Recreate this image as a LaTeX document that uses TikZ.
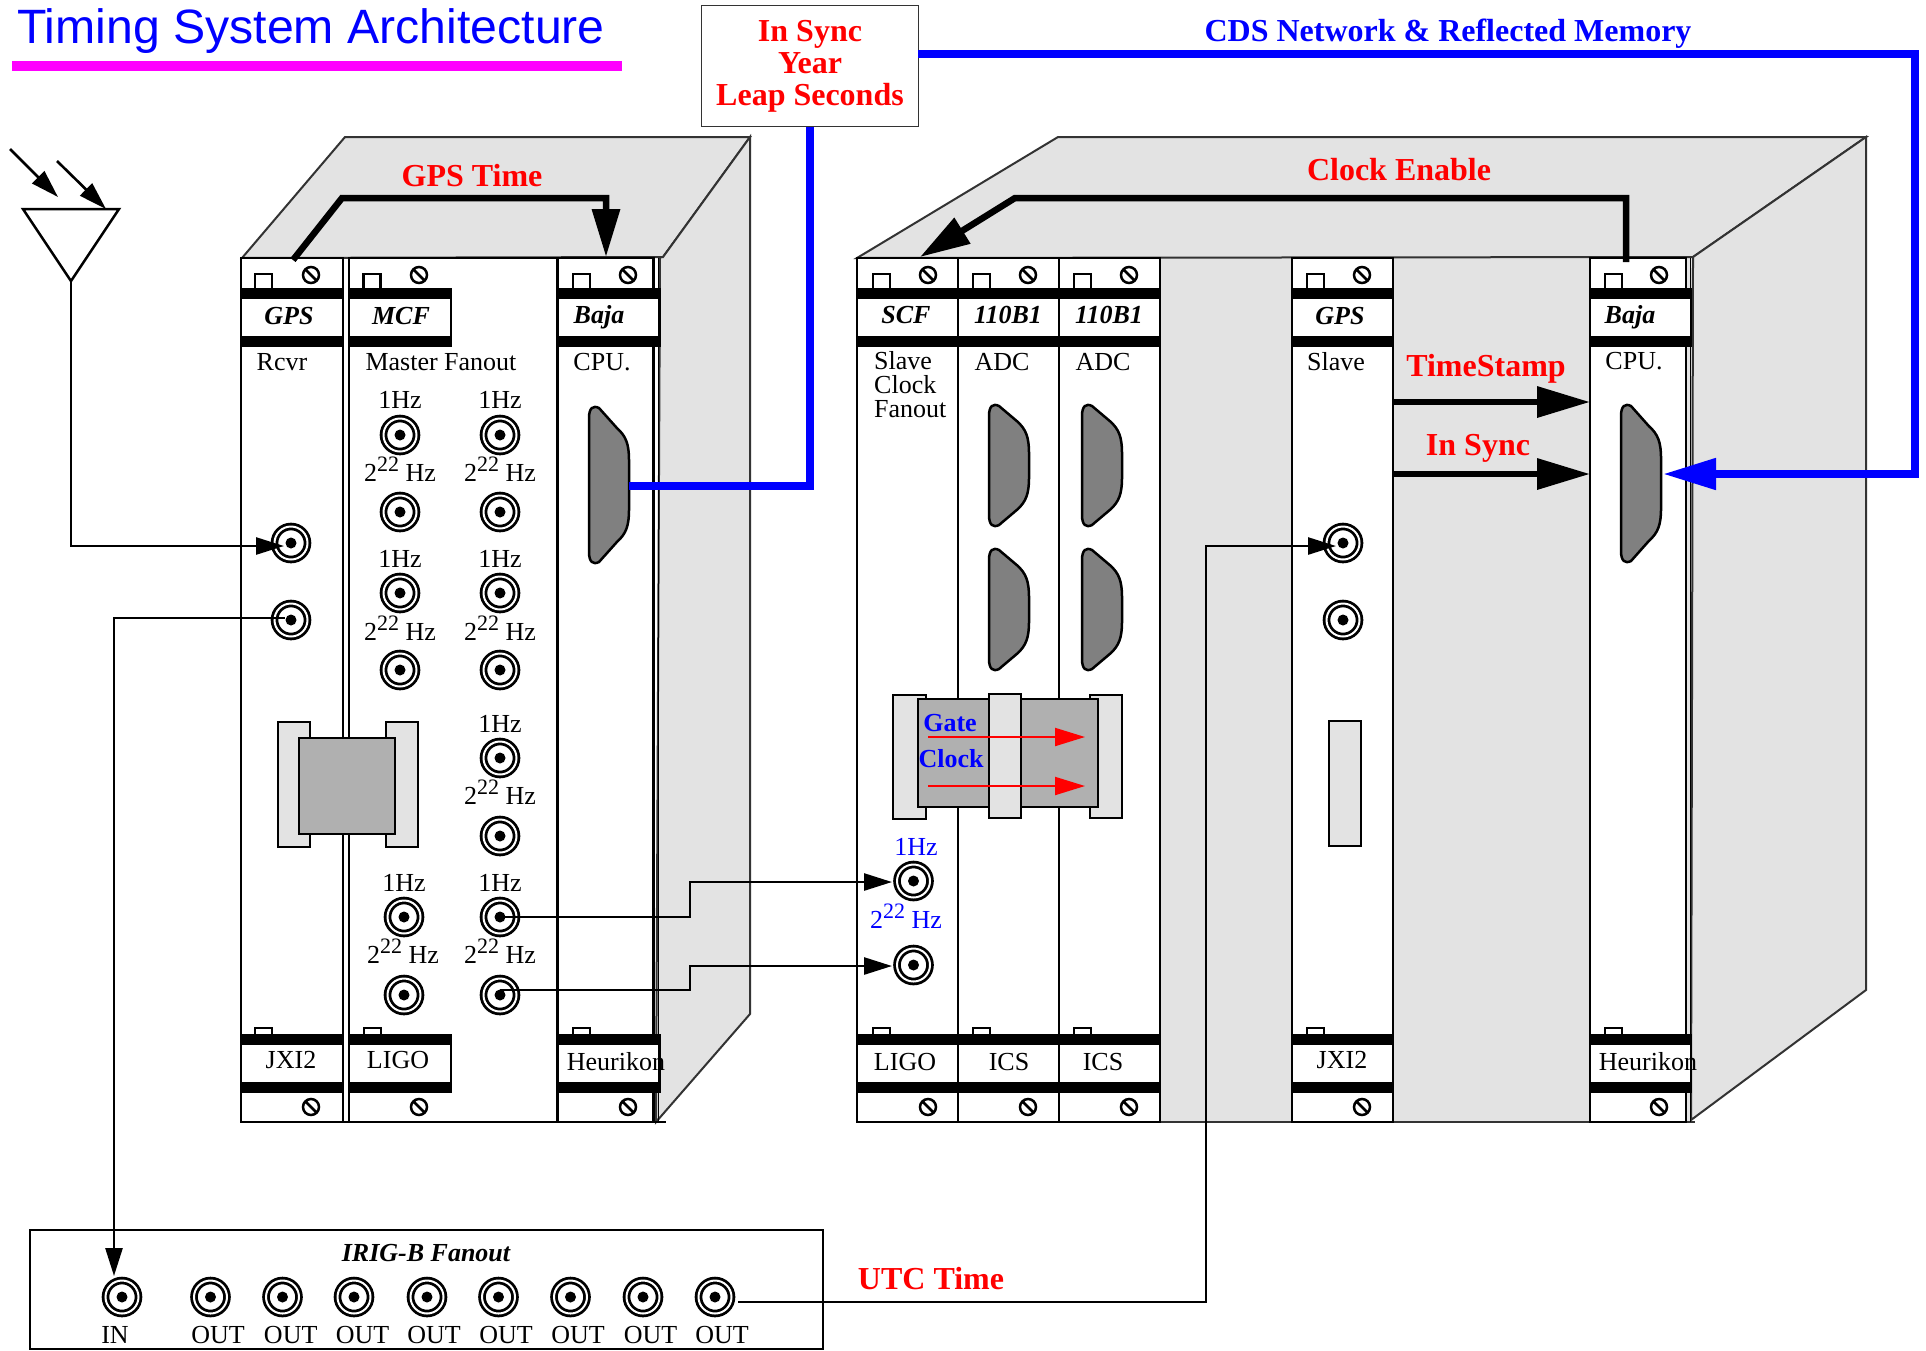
\documentclass[tikz,border=0pt]{standalone}
\usepackage{xcolor}
\usepackage{fontspec}
\setmainfont{Liberation Serif}
\newfontfamily\headfont{Liberation Sans}
\usetikzlibrary{arrows.meta}
\definecolor{titlebar}{RGB}{255,0,255}
\newcommand\twotwo{2\raisebox{10pt}{\fontsize{22}{22}\selectfont 22} Hz}
\tikzset{
  rack/.style={fill=black!11,draw=black!80,line width=2},
  panel/.style={fill=white,draw=black,line width=2.5},
  plate/.style={fill=black!11,draw=black,line width=2.8},
  body/.style={fill=black!31,draw=black,line width=2.8},
  dsub/.style={fill=black!50,draw=black,line width=2.5},
  bnc/.style={circle,draw,fill=white,line width=2.8,double,double distance=2,minimum size=33,inner sep=0,
    path picture={\fill[black] (path picture bounding box.center) circle (5.5);}},
  txt/.style={font=\fontsize{26}{26}\selectfont,inner sep=0},
  tag/.style={font=\fontsize{26}{26}\selectfont\bfseries\itshape,inner sep=0},
  sign/.style={font=\fontsize{32}{32}\selectfont\bfseries,text=red,inner sep=0},
  wire/.style={line width=2.6,-{Triangle[length=28pt,width=17pt]}},
  bus/.style={line width=6.5,-{Triangle[length=50pt,width=29pt]}},
  netbus/.style={draw=blue,line width=8},
}
\newcommand\vmecard[5]{
  \draw[panel] (#1,258) rectangle (#2,1122);
  \draw[panel] (#1,289) rectangle (#3,346);
  \draw[panel] (#1,1035) rectangle (#3,1092);
  \fill (#1-1,289) rectangle (#3+1,299);
  \fill (#1-1,336) rectangle (#3+1,346);
  \fill (#1-1,1035) rectangle (#3+1,1045);
  \fill (#1-1,1082) rectangle (#3+1,1092);
  \draw[line width=2.5] (#4,289) |- (#4+17,274) -- (#4+17,289);
  \draw[line width=2] (#4,1035) |- (#4+17,1028) -- (#4+17,1035);
  \draw[line width=2.5] (#5,275) circle (8) ++(-6,-6) -- ++(12,12);
  \draw[line width=2.5] (#5,1107) circle (8) ++(-6,-6) -- ++(12,12);
}
\begin{document}
\begin{tikzpicture}[x=1pt,y=-1pt]
\useasboundingbox (0,0) rectangle (1926,1350);
\node[inner sep=0,font=\fontsize{48.2}{48}\headfont,text=blue] (title) at (311,31) {Timing System Architecture};
\fill[titlebar] (12,60.5) rectangle (622,71);
\node[draw=black!80,line width=1.5,minimum width=217,minimum height=121,inner sep=0,align=center,
  font=\fontsize{32}{32}\selectfont\bfseries,text=red] (syncbox) at (810,66) {\rule{0pt}{5pt}In Sync\\Year\\Leap Seconds};
\node[sign,text=blue] (cdslabel) at (1448,34) {CDS Network \& Reflected Memory};
\draw[line width=2.5] (23,209) -- (119,209) -- (71,281) -- cycle;
\coordinate (dishTip) at (71,281);
\coordinate (dishTop) at (106,209);
\coordinate (rayA) at (10,149);
\coordinate (rayAend) at (58,197);
\coordinate (rayB) at (57,161);
\draw[wire] (rayA) -- (rayAend);
\draw[wire] (rayB) -- (dishTop);
\draw[rack] (242,258) -- (345,137) -- (750,137) -- (663,257) -- cycle;
\draw[rack] (660,257) -- (663,257) -- (750,137) -- (750,1014) -- (656,1122) -- cycle;
\draw[rack,draw=none] (857,258) rectangle (1692,1122);
\draw[rack] (857,258) -- (1058,137) -- (1866,137) -- (1693,257) -- cycle;
\draw[rack] (1693,257) -- (1866,137) -- (1866,990) -- (1691,1120) -- cycle;
\draw[draw=black!80,line width=2] (857,1122) -- (1695,1122);
\draw[line width=2] (241,1122) -- (666,1122);
\foreach \xa/\xb/\xc/\xs/\xt in {241/343/343/255/311,349/557.5/451/363.5/419,557.5/653.5/660/573/628,
  857/958/958/873/928,958/1059/1059/973/1028,1059/1160/1160/1074/1129,1292/1393/1393/1307/1362,1590/1686/1691/1605/1659}
  {\vmecard{\xa}{\xb}{\xc}{\xs}{\xt}}
\draw[line width=1.5] (658.5,258) -- (658.5,1122);
\draw[line width=1.5] (1690.5,258) -- (1690.5,1122);
\foreach \x/\y/\h in {589/406/158,1621/404/159,989/404/123,989/548/123,1082/404/123,1082/548/123}
  \draw[dsub] (\x,\y+12) .. controls (\x,\y+2) and (\x+4,\y-1) .. (\x+10,\y+2)
    -- (\x+28,\y+.14*\h) .. controls (\x+37,\y+.14*\h+8) and (\x+40,\y+.14*\h+16) .. (\x+40,\y+.14*\h+32)
    -- (\x+40,\y+.86*\h-32) .. controls (\x+40,\y+.86*\h-16) and (\x+37,\y+.86*\h-8) .. (\x+28,\y+.86*\h)
    -- (\x+10,\y+\h-2) .. controls (\x+4,\y+\h+1) and (\x,\y+\h-2) .. (\x,\y+\h-12) -- cycle;
\draw[plate] (278,722) rectangle (310,847);
\draw[plate] (386,722) rectangle (418,847);
\draw[body] (299,738) rectangle (395,834);
\draw[plate] (893,695) rectangle (926,819);
\draw[plate] (1090,695) rectangle (1122,818);
\draw[body] (918,699) rectangle (1098,807);
\draw[plate] (989,694) rectangle (1021,818);
\draw[plate,line width=2.5] (1329,721) rectangle (1361,846);
\foreach \nm/\x/\y in {gpsA/291/543,gpsB/291/620,mcfA/400/435,mcfB/400/512,mcfC/400/593,mcfD/400/670,
  mcfE/500/435,mcfF/500/512,mcfG/500/593,mcfH/500/670,mcfI/500/758,mcfJ/500/836,mcfK/404/917,mcfL/404/995,
  mcfM/500/917,mcfN/500/995,scfA/913.5/881,scfB/913.5/965,slaveA/1343/543,slaveB/1343/620,
  irigIn/122/1297,irigA/210.5/1297,irigB/282.5/1297,irigC/354/1297,irigD/427/1297,
  irigE/498.5/1297,irigF/570.5/1297,irigG/643/1297,irigH/715/1297}
  \node[bnc] (\nm) at (\x,\y) {};
\foreach \x/\y/\t [count=\i] in {289/316/GPS,401/316/MCF,599/317/Baja,906/315/SCF,1008/315/110B1,1109/315/110B1,1340/316/GPS,1630/317/Baja}
  \node[tag] (tag\i) at (\x,\y) {\t};
\foreach \x/\y/\t [count=\i] in {282/362/Rcvr,441/362/Master Fanout,602/362/CPU.,1002/362/ADC,1103/362/ADC,1336/362/Slave,1634/361/CPU.,
  291/1060/JXI2,398/1060/LIGO,616/1062/Heurikon,905/1062/LIGO,1009/1062/ICS,1103/1062/ICS,1342/1060/JXI2,1648/1062/Heurikon}
  \node[txt] (name\i) at (\x,\y) {\t};
\node[txt,align=left,font=\fontsize{26}{24}\selectfont,anchor=north west] (scfname) at (874,351) {Slave\\Clock\\Fanout};
\foreach \x/\y [count=\i] in {400/400,500/400,400/559,500/559,500/724,404/883,500/883}
  \node[txt] (onehz\i) at (\x,\y) {1Hz};
\foreach \x/\y [count=\i] in {400/469,500/469,400/628,500/628,500/792,403/951,500/951}
  \node[txt] (fasthz\i) at (\x,\y) {\twotwo};
\node[txt,text=blue] (scfone) at (916,847) {1Hz};
\node[txt,text=blue] (scffast) at (906,916) {\twotwo};
\node[txt,font=\fontsize{26}{26}\selectfont\bfseries,text=blue] (gatelabel) at (950,723) {Gate};
\node[txt,font=\fontsize{26}{26}\selectfont\bfseries,text=blue] (clocklabel) at (951,759) {Clock};
\coordinate (gateFrom) at (928,737);
\coordinate (gateTo) at (1085,737);
\coordinate (clockFrom) at (928,786);
\coordinate (clockTo) at (1085,786);
\draw[wire,line width=2,red,-{Triangle[length=30pt,width=18pt]}] (gateFrom) -- (gateTo);
\draw[wire,line width=2,red,-{Triangle[length=30pt,width=18pt]}] (clockFrom) -- (clockTo);
\node[sign] (gpslabel) at (472,176) {GPS Time};
\node[sign] (clocklab) at (1399,170) {Clock Enable};
\node[sign] (stamplab) at (1486,369) {TimeStamp};
\node[sign] (synclab) at (1478,448) {In Sync};
\node[sign] (utclab) at (931,1279) {UTC Time};
\coordinate (gpsFrom) at (293,260);
\coordinate (gpsKnee) at (342,198);
\coordinate (bajaTop) at (606,257);
\draw[bus,-{Triangle[length=48pt,width=27pt]}] (gpsFrom) -- (gpsKnee) -| (bajaTop);
\coordinate (enableFrom) at (1626,262);
\coordinate (enableKnee) at (1015,198);
\coordinate (scfTop) at (920,257);
\draw[bus] (enableFrom) |- (enableKnee) -- (scfTop);
\coordinate (stampFrom) at (1393,402);
\coordinate (stampTo) at (1590,402);
\coordinate (syncFrom) at (1393,474);
\coordinate (syncTo) at (1590,474);
\draw[bus,-{Triangle[length=53pt,width=30pt]}] (stampFrom) -- (stampTo);
\draw[bus,-{Triangle[length=53pt,width=30pt]}] (syncFrom) -- (syncTo);
\coordinate (bajaPort) at (629,486);
\draw[netbus] (bajaPort) -| (syncbox.south);
\coordinate (cdsOut) at (918,54);
\coordinate (cdsCorner) at (1915,474);
\coordinate (cpuPort) at (1663,474);
\draw[netbus,-{Triangle[length=53pt,width=30pt]},blue] (cdsOut) -| (cdsCorner) -- (cpuPort);
\coordinate (gpsInA) at (284,546);
\draw[wire] (dishTip) |- (gpsInA);
\coordinate (gpsOutB) at (285,618);
\draw[wire,-] (gpsOutB) -| (114,1000);
\coordinate (irigTop) at (114,1276);
\draw[wire] (114,1000) -- (irigTop);
\coordinate (scfInA) at (892,882);
\coordinate (scfInB) at (892,966);
\draw[wire] (mcfM.center) -- (690,917) |- (scfInA);
\coordinate (mcfOut) at (500,990);
\draw[wire] (mcfOut) -- (690,990) |- (scfInB);
\coordinate (slaveIn) at (1336,546);
\coordinate (irigOut) at (738,1302);
\draw[wire] (irigOut) -| (1206,800) |- (slaveIn);
\draw[line width=2.5,draw=black] (30,1230) rectangle (823,1349);
\node[tag] (iriglabel) at (426,1253) {IRIG-B Fanout};
\node[txt] (inlabel) at (115,1335) {IN};
\foreach \x [count=\i] in {218,290.7,362.6,434,506,578,650.6,722}
  \node[txt] (outlabel\i) at (\x,1335) {OUT};
\end{tikzpicture}
\end{document}
